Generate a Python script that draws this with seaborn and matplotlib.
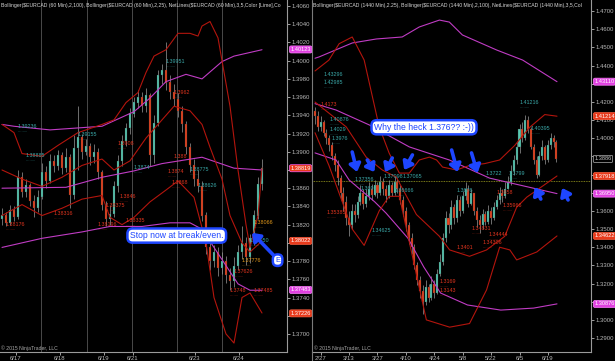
import numpy as np
import pandas as pd
import matplotlib
matplotlib.use('Agg')
import matplotlib.pyplot as plt
import matplotlib.transforms as mtrans
import seaborn as sns

# ---------------- DATA ----------------
# Left panel: EURCAD 60 min (candle index)
left_close = [1.3830, 1.3822, 1.3836, 1.3828, 1.3872, 1.3856, 1.3863, 1.3846, 1.3838, 1.3850,
              1.3878, 1.3868, 1.3890, 1.3884, 1.3896, 1.3882, 1.3894, 1.3852, 1.3904, 1.3916,
              1.3900, 1.3906, 1.3894, 1.3900, 1.3878, 1.3842, 1.3826, 1.3832, 1.3862, 1.3890,
              1.3912, 1.3926, 1.3942, 1.3954, 1.3960, 1.3950, 1.3962, 1.3896, 1.3932, 1.3984,
              1.3990, 1.3976, 1.3966, 1.3958, 1.3945, 1.3930, 1.3905, 1.3885, 1.3870, 1.3862,
              1.3830, 1.3795, 1.3780, 1.3790, 1.3772, 1.3780, 1.3765, 1.3758, 1.3775, 1.3790,
              1.3800, 1.3785, 1.3805, 1.3830, 1.3865, 1.3882]
left_open = [1.3826] + left_close[:-1]
left_high = [1.3838, 1.3834, 1.3842, 1.3840, 1.3880, 1.3878, 1.3870, 1.3866, 1.3852, 1.3858,
             1.3888, 1.3884, 1.3898, 1.3896, 1.3902, 1.3900, 1.3904, 1.3898, 1.3918, 1.3950,
             1.3920, 1.3914, 1.3910, 1.3908, 1.3904, 1.3880, 1.3846, 1.3842, 1.3868, 1.3896,
             1.3918, 1.3932, 1.3948, 1.3960, 1.3968, 1.3966, 1.3970, 1.3964, 1.3940, 1.3990,
             1.3996, 1.4020, 1.3984, 1.3974, 1.3964, 1.3950, 1.3934, 1.3910, 1.3892, 1.3880,
             1.3868, 1.3834, 1.3800, 1.3798, 1.3796, 1.3790, 1.3786, 1.3772, 1.3784, 1.3798,
             1.3818, 1.3806, 1.3810, 1.3836, 1.3872, 1.3892]
left_low = [1.3820, 1.3818, 1.3820, 1.3824, 1.3826, 1.3850, 1.3850, 1.3840, 1.3828, 1.3834,
            1.3848, 1.3860, 1.3866, 1.3878, 1.3880, 1.3876, 1.3878, 1.3838, 1.3848, 1.3880,
            1.3892, 1.3896, 1.3886, 1.3888, 1.3870, 1.3836, 1.3818, 1.3820, 1.3828, 1.3856,
            1.3884, 1.3906, 1.3920, 1.3938, 1.3948, 1.3944, 1.3944, 1.3884, 1.3888, 1.3928,
            1.3974, 1.3968, 1.3958, 1.3950, 1.3938, 1.3922, 1.3898, 1.3878, 1.3862, 1.3856,
            1.3824, 1.3788, 1.3770, 1.3774, 1.3764, 1.3766, 1.3756, 1.3748, 1.3752, 1.3770,
            1.3782, 1.3776, 1.3778, 1.3798, 1.3826, 1.3858]

# Bollinger (25, 2.25) - dark red ; Bollinger (100, 2) - magenta  (knots)
lbb25_x = [0, 3, 5, 10, 14, 19, 25, 28, 31, 34, 36, 38, 41, 44, 47, 49, 50, 52, 54, 55, 57, 59, 61, 62, 64, 65]
lbb25_up = [1.3930, 1.3921, 1.3898, 1.3895, 1.3907, 1.3921, 1.3930, 1.3935, 1.3954, 1.3965, 1.3987, 1.4005,
            1.4012, 1.4030, 1.4030, 1.4027, 1.4038, 1.4043, 1.4025, 1.4000, 1.3950, 1.3880, 1.3820, 1.3795,
            1.3830, 1.3882]
lbb25_mx = [0, 5, 10, 15, 20, 25, 28, 32, 36, 40, 43, 47, 50, 52, 55, 57, 60, 62, 65]
lbb25_md = [1.3880, 1.3870, 1.3862, 1.3872, 1.3885, 1.3892, 1.3880, 1.3890, 1.3915, 1.3935, 1.3950, 1.3945,
            1.3930, 1.3905, 1.3870, 1.3830, 1.3800, 1.3790, 1.3802]
lbb25_lx = [0, 5, 10, 15, 20, 25, 27, 30, 33, 37, 41, 44, 48, 51, 53, 56, 58, 60, 62, 65]
lbb25_lo = [1.3830, 1.3842, 1.3830, 1.3838, 1.3848, 1.3852, 1.3828, 1.3820, 1.3828, 1.3845, 1.3858, 1.3868,
            1.3850, 1.3800, 1.3740, 1.3700, 1.3690, 1.3740, 1.3745, 1.3723]
lbb100_ux = [0, 3, 12, 25, 33, 37, 41, 46, 50, 55, 58, 65]
lbb100_up = [1.3930, 1.3928, 1.3924, 1.3928, 1.3944, 1.3959, 1.3977, 1.3985, 1.3980, 1.3999, 1.4005, 1.4012]
lbb100_mx = [0, 16, 25, 33, 40, 50, 58, 65]
lbb100_md = [1.3860, 1.3861, 1.3872, 1.3879, 1.3887, 1.3894, 1.3882, 1.3880]
lbb100_lx = [0, 10, 20, 27, 35, 42, 47, 50, 53, 56, 59, 62, 65]
lbb100_lo = [1.3795, 1.3805, 1.3812, 1.3818, 1.3818, 1.3822, 1.3822, 1.3815, 1.3795, 1.3775, 1.3755, 1.3748, 1.3748]

left_sessions = [9.75, 21.2, 32.4, 43.7, 54.9]
left_xtick_pos = [3.4, 14.5, 25.5, 32.7, 48.25, 59.25]
left_xtick_lab = ['6/17', '6/18', '6/19', '6/21', '6/23', '6/24']
left_yticks = [round(1.3700 + 0.002 * k, 4) for k in range(19)]
left_hidden_ticks = [1.3880, 1.3800, 1.3720]

# Right panel: EURCAD daily
right_close = [1.4120, 1.4060, 1.4090, 1.4030, 1.4000, 1.3960, 1.3900, 1.3850, 1.3780, 1.3700,
               1.3650, 1.3560, 1.3520, 1.3600, 1.3580, 1.3650, 1.3700, 1.3640, 1.3680, 1.3720,
               1.3690, 1.3740, 1.3700, 1.3760, 1.3720, 1.3680, 1.3740, 1.3700, 1.3760, 1.3720,
               1.3660, 1.3600, 1.3520, 1.3450, 1.3400, 1.3300, 1.3220, 1.3160, 1.3100, 1.3180,
               1.3120, 1.3200, 1.3150, 1.3250, 1.3320, 1.3450, 1.3560, 1.3520, 1.3620, 1.3560,
               1.3660, 1.3600, 1.3680, 1.3720, 1.3640, 1.3700, 1.3600, 1.3550, 1.3520, 1.3580,
               1.3540, 1.3600, 1.3560, 1.3620, 1.3660, 1.3700, 1.3680, 1.3720, 1.3760, 1.3820,
               1.3880, 1.3950, 1.4050, 1.4000, 1.4100, 1.4050, 1.3950, 1.3880, 1.3800, 1.3900,
               1.3950, 1.3880, 1.3960, 1.4000, 1.3980, 1.3886]
right_open = [1.4150] + right_close[:-1]
right_high = [1.4170, 1.4150, 1.4120, 1.4100, 1.4050, 1.4020, 1.3980, 1.3920, 1.3880, 1.3800,
              1.3730, 1.3680, 1.3600, 1.3640, 1.3640, 1.3680, 1.3740, 1.3720, 1.3720, 1.3760,
              1.3750, 1.3770, 1.3760, 1.3790, 1.3780, 1.3740, 1.3770, 1.3760, 1.3790, 1.3780,
              1.3740, 1.3680, 1.3620, 1.3540, 1.3480, 1.3420, 1.3320, 1.3240, 1.3190, 1.3220,
              1.3200, 1.3240, 1.3220, 1.3280, 1.3360, 1.3480, 1.3600, 1.3590, 1.3660, 1.3640,
              1.3690, 1.3680, 1.3710, 1.3760, 1.3740, 1.3720, 1.3700, 1.3620, 1.3580, 1.3610,
              1.3600, 1.3630, 1.3620, 1.3650, 1.3690, 1.3730, 1.3720, 1.3760, 1.3790, 1.3850,
              1.3910, 1.3980, 1.4080, 1.4090, 1.4130, 1.4120, 1.4060, 1.3970, 1.3900, 1.3930,
              1.3990, 1.3960, 1.3990, 1.4030, 1.4020, 1.3990]
right_low = [1.4080, 1.4040, 1.4040, 1.4010, 1.3970, 1.3930, 1.3880, 1.3820, 1.3740, 1.3660,
             1.3600, 1.3520, 1.3460, 1.3500, 1.3540, 1.3560, 1.3630, 1.3610, 1.3620, 1.3660,
             1.3660, 1.3680, 1.3670, 1.3690, 1.3690, 1.3650, 1.3670, 1.3680, 1.3690, 1.3700,
             1.3640, 1.3570, 1.3490, 1.3420, 1.3360, 1.3280, 1.3190, 1.3120, 1.3030, 1.3080,
             1.3100, 1.3110, 1.3120, 1.3140, 1.3240, 1.3300, 1.3430, 1.3480, 1.3500, 1.3530,
             1.3540, 1.3570, 1.3590, 1.3660, 1.3620, 1.3630, 1.3580, 1.3510, 1.3480, 1.3500,
             1.3520, 1.3530, 1.3530, 1.3550, 1.3610, 1.3640, 1.3650, 1.3670, 1.3720, 1.3740,
             1.3800, 1.3860, 1.3920, 1.3980, 1.3990, 1.4030, 1.3940, 1.3860, 1.3780, 1.3790,
             1.3880, 1.3860, 1.3870, 1.3940, 1.3950, 1.3870]

rbb25_ux = [0, 4.9, 8.5, 13.1, 17.3, 22.6, 26.1, 29.7, 33.2, 36.7, 40.3, 42.8, 44.9, 49.8, 54.4, 59.7,
            65.0, 70.3, 75.6, 80.9, 85.2]
rbb25_up = [1.4370, 1.4430, 1.4520, 1.4557, 1.4430, 1.4062, 1.3918, 1.3808, 1.3808, 1.3880, 1.3896, 1.3880,
            1.3841, 1.3825, 1.3850, 1.3860, 1.3880, 1.3960, 1.4060, 1.4130, 1.4121]
rbb25_mx = [0, 11.0, 18.0, 23.7, 28.6, 35.7, 43.8, 47.4, 54.4, 60.4, 66.8, 71.0, 74.6, 78.1, 85.2]
rbb25_md = [1.4199, 1.4062, 1.3896, 1.3825, 1.3786, 1.3580, 1.3460, 1.3385, 1.3350, 1.3385, 1.3460, 1.3620,
            1.3676, 1.3714, 1.3792]
rbb25_lx = [0, 4.9, 10.3, 13.1, 17.3, 22.6, 26.1, 29.7, 35.0, 39.2, 47.4, 54.4, 60.4, 65.0, 68.6, 71.0,
            78.1, 85.2]
rbb25_lo = [1.4030, 1.3850, 1.3620, 1.3500, 1.3410, 1.3600, 1.3680, 1.3680, 1.3300, 1.3000, 1.2960, 1.2980,
            1.3165, 1.3400, 1.3385, 1.3330, 1.3374, 1.3462]
rbb100_ux = [0, 1.4, 13.1, 21.6, 30.7, 36.7, 43.8, 47.3, 51.9, 64.0, 73.1, 85.2]
rbb100_up = [1.4440, 1.4447, 1.4524, 1.4546, 1.4557, 1.4612, 1.4650, 1.4639, 1.4568, 1.4485, 1.4430, 1.4311]
rbb100_mx = [0, 7.4, 19.1, 33.2, 47.3, 61.5, 85.2]
rbb100_md = [1.4190, 1.4155, 1.4073, 1.3952, 1.3880, 1.3780, 1.3695]
rbb100_lx = [0, 7.4, 12.0, 21.0, 25.0, 32.7, 38.3, 44.2, 53.7, 65.4, 77.0, 85.2]
rbb100_lo = [1.3919, 1.3880, 1.3770, 1.3650, 1.3588, 1.3450, 1.3291, 1.3148, 1.3082, 1.3054, 1.3065, 1.3088]

right_line_level = 1.3766
right_xtick_pos = [2, 12, 22, 32, 42, 52, 62, 72, 82]
right_xtick_lab = ['2/27', '3/13', '3/27', '4/10', '4/24', '5/8', '5/22', '6/5', '6/19']
right_yticks = [round(1.29 + 0.01 * k, 2) for k in range(19)]
right_hidden_ticks = [1.43, 1.39, 1.38, 1.37, 1.31]

left_tags = [(1.40123, '1.40123', '#e040e0', '#ff80ff'), (1.38819, '1.38819', '#e83a1c', '#ff60ff'),
             (1.38022, '1.38022', '#e83a1c', '#ff6040'), (1.37483, '1.37483', '#e040e0', '#ff80ff'),
             (1.37226, '1.37226', '#e83a1c', '#ff6040')]
right_tags = [(1.43110, '1.43110', '#e040e0', '#ff80ff'), (1.41214, '1.41214', '#e83a1c', '#ff6040'),
              (1.37918, '1.37918', '#e83a1c', '#ff6040'), (1.36950, '1.36950', '#e040e0', '#ff80ff'),
              (1.34622, '1.34622', '#e83a1c', '#ff6040'), (1.30876, '1.30876', '#e040e0', '#ff80ff')]

# NetLines labels (candle index, price, text, kind)
left_net = [(4, 1.3925, '1.39236', 'h'), (6, 1.3893, '1.38885', 'h'), (19, 1.3916, '1.39155', 'h'),
            (29, 1.3906, '1.3908', 'l'), (33, 1.3880, '1.3874', 'h'), (1, 1.3817, '1.38176', 'l'),
            (13, 1.3830, '1.38316', 'l'), (24, 1.3817, '1.38196', 'l'), (26, 1.3838, '1.38375', 'l'),
            (29.5, 1.3848, '1.3846', 'l'), (31, 1.3822, '1.38335', 'l'), (43, 1.3962, '1.3962', 'l'),
            (41, 1.3996, '1.39951', 'h'), (41.5, 1.3876, '1.3874', 'l'), (42.5, 1.3864, '1.3868', 'l'),
            (43, 1.3892, '1.388', 'l'), (47, 1.3878, '1.38775', 'h'), (49, 1.3860, '1.38626', 'h'),
            (63, 1.3820, '1.38066', 'o'), (60, 1.3778, '1.37776', 'o'), (58, 1.3766, '1.37626', 'l'),
            (57, 1.3745, '1.3748', 'l'), (63, 1.3745, '1.37485', 'l'), (62, 1.3800, '1.37950', 'h')]
right_net = [(3, 1.4335, '1.43296', 'h'), (3, 1.4290, '1.42985', 'h'), (2, 1.4173, '1.4173', 'l'),
             (5, 1.4087, '1.40876', 'h'), (5, 1.4033, '1.4029', 'h'), (6, 1.3985, '1.3976', 'h'),
             (14, 1.3760, '1.37356', 'h'), (16, 1.3710, '1.369', 'h'), (28, 1.3700, '1.36666', 'h'),
             (24, 1.3775, '1.37098', 'h'), (31, 1.3775, '1.37065', 'h'), (44, 1.3200, '1.3169', 'l'),
             (44, 1.3150, '1.3143', 'l'), (50, 1.3385, '1.3401', 'l'), (55, 1.3490, '1.34831', 'l'),
             (61, 1.3455, '1.34444', 'l'), (59, 1.3410, '1.34306', 'l'), (64, 1.3690, '1.3658', 'l'),
             (66, 1.3615, '1.35966', 'l'), (50, 1.3700, '1.3676', 'h'), (60, 1.3790, '1.3722', 'h'),
             (68, 1.3790, '1.3799', 'h'), (72, 1.4180, '1.41216', 'h'), (76, 1.4040, '1.40395', 'h'),
             (20, 1.3480, '1.34625', 'h'), (4, 1.3580, '1.35385', 'l')]

# blue arrows (tail -> head), right panel, and left panel arrow
right_arrows = [((13.1, 1.3924), (14.8, 1.3814)), ((18.4, 1.3880), (20.9, 1.3814)),
                ((27.2, 1.3891), (24.7, 1.3814)), ((34.3, 1.3908), (31.4, 1.3825)),
                ((48.1, 1.3935), (50.2, 1.3814)), ((55.1, 1.3919), (57.2, 1.3808)),
                ((79.5, 1.3665), (77.4, 1.3731)), ((89.1, 1.3660), (87.0, 1.3726))]
left_arrow = ((68.2, 1.3785), (62.5, 1.3811))

# ---------------- STYLE / LAYOUT ----------------
W, H = 615, 361
sns.set_theme(style='dark')
plt.rcParams['font.family'] = ['Liberation Sans', 'DejaVu Sans']

UP, DN, WICK = '#58c9b2', '#e8431f', '#9a9a9a'
RED_BB, MAG_BB = '#b3150d', '#c03cc4'
TEAL, LOWRED, ORANGE = '#3aa8a8', '#e0341e', '#e59a1a'
BLUE = '#1e46ff'

fig = plt.figure(figsize=(W / 100, H / 100), dpi=100, facecolor='black')


def rect(x0, x1, y0, y1):
    return [x0 / W, 1 - y1 / H, (x1 - x0) / W, (y1 - y0) / H]


axL = fig.add_axes(rect(0, 287, 0, 352))
axR = fig.add_axes(rect(312, 591, 0, 352))


def style_axes(ax, xlim, ylim, yticks, hidden):
    ax.set_facecolor('black')
    ax.set_xlim(*xlim)
    ax.set_ylim(*ylim)
    ax.grid(False)
    for s in ['top', 'left']:
        ax.spines[s].set_visible(False)
    for s in ['right', 'bottom']:
        ax.spines[s].set_visible(True)
        ax.spines[s].set_color('#9a9a9a')
        ax.spines[s].set_linewidth(0.8)
    ax.yaxis.tick_right()
    ax.set_yticks(yticks)
    ax.set_yticklabels(['' if any(abs(v - h) < 1e-6 for h in hidden) else '{:.4f}'.format(v)
                        for v in yticks])
    ax.tick_params(axis='y', colors='#b8b8b8', labelsize=4.3, length=2.5, width=0.6, pad=1,
                   direction='out', right=True, left=False)
    ax.tick_params(axis='x', colors='#b8b8b8', labelsize=4.3, length=2.0, width=0.6, pad=0.8,
                   direction='out', bottom=True)


def candles(ax, o, h, l, c, width):
    idx = np.arange(len(c))
    o, h, l, c = map(np.asarray, (o, h, l, c))
    up = c >= o
    ax.vlines(idx, l, h, color=WICK, lw=0.5, zorder=3)
    cols = np.where(up, UP, DN)
    ax.bar(idx, np.abs(c - o) + 1e-5, bottom=np.minimum(o, c), width=width, color=cols,
           edgecolor='#3a3a3a', linewidth=0.2, zorder=4)


def bands(ax, sets):
    for xs, ys, col in sets:
        df = pd.DataFrame({'x': xs, 'y': ys})
        sns.lineplot(data=df, x='x', y='y', ax=ax, color=col, lw=0.8, zorder=5, sort=False)


def tags(ax, tag_list):
    tr = mtrans.blended_transform_factory(ax.transAxes, ax.transData)
    for v, t, fc, ec in tag_list:
        ax.text(1.012, v, t, transform=tr, ha='left', va='center', fontsize=4.1, color='white',
                bbox=dict(boxstyle='round,pad=0.18,rounding_size=0.3', fc=fc, ec=ec, lw=0.5),
                clip_on=False, zorder=20)


def netlabels(ax, items):
    for i, p, t, k in items:
        col = {'h': TEAL, 'l': LOWRED, 'o': ORANGE}[k]
        ax.text(i, p, t, fontsize=3.9, color=col, ha='left', va='bottom', zorder=8)
        ax.text(i, p, '.' * (len(t) + 2), fontsize=3.0, color=col, ha='left', va='top', zorder=8)


def blue_arrow(ax, tail, head):
    ax.annotate('', xy=head, xytext=tail, zorder=29,
                arrowprops=dict(arrowstyle='-|>,head_length=0.55,head_width=0.42', color=BLUE, lw=2.6,
                                shrinkA=0, shrinkB=0, mutation_scale=8))


def note_box(ax, x, y, text, fs, ha='left'):
    ax.text(x, y, text, fontsize=fs, color=BLUE, ha=ha, va='center', zorder=30,
            bbox=dict(boxstyle='round,pad=0.3,rounding_size=0.6', fc='white', ec=BLUE, lw=1.8))


# ---------------- LEFT PANEL ----------------
style_axes(axL, (-0.5, 71.25), (1.36802, 1.406659), left_yticks, left_hidden_ticks)
for s in left_sessions:
    axL.axvline(s, color='#4a4a4a', lw=0.7, zorder=1)
bands(axL, [(lbb100_ux, lbb100_up, MAG_BB), (lbb100_mx, lbb100_md, MAG_BB), (lbb100_lx, lbb100_lo, MAG_BB),
            (lbb25_x, lbb25_up, RED_BB), (lbb25_mx, lbb25_md, RED_BB), (lbb25_lx, lbb25_lo, RED_BB)])
candles(axL, left_open, left_high, left_low, left_close, 0.62)
netlabels(axL, left_net)
axL.set_xticks(left_xtick_pos)
axL.set_xticklabels(left_xtick_lab)
axL.set_xlabel('')
axL.set_ylabel('')
tags(axL, left_tags)
note_box(axL, 32.0, 1.3808, 'Stop now at break/even.', 6.2)
note_box(axL, 68.9, 1.3781, 'E', 5.4, ha='center')
blue_arrow(axL, left_arrow[0], left_arrow[1])

# ---------------- RIGHT PANEL ----------------
style_axes(axR, (-1.06, 97.17), (1.28233, 1.47605), right_yticks, right_hidden_ticks)
axR.axhline(right_line_level, color='#a0a020', lw=0.6, ls=(0, (1, 1)), zorder=2)
bands(axR, [(rbb100_ux, rbb100_up, MAG_BB), (rbb100_mx, rbb100_md, MAG_BB), (rbb100_lx, rbb100_lo, MAG_BB),
            (rbb25_ux, rbb25_up, RED_BB), (rbb25_mx, rbb25_md, RED_BB), (rbb25_lx, rbb25_lo, RED_BB)])
candles(axR, right_open, right_high, right_low, right_close, 0.72)
netlabels(axR, right_net)
axR.set_xticks(right_xtick_pos)
axR.set_xticklabels(right_xtick_lab)
axR.set_xticks(np.arange(0, 86, 1), minor=True)
axR.tick_params(axis='x', which='minor', length=1.5, color='#b8b8b8', width=0.5)
axR.set_xlabel('')
axR.set_ylabel('')
tags(axR, right_tags)
trR = mtrans.blended_transform_factory(axR.transAxes, axR.transData)
axR.text(1.012, 1.3886, '1.3886', transform=trR, ha='left', va='center', fontsize=4.1, color='#c8c8c8',
         bbox=dict(boxstyle='round,pad=0.18', fc='black', ec='#b0b0b0', lw=0.5), clip_on=False, zorder=20)
note_box(axR, 20.8, 1.4060, 'Why the heck 1.376?? :-))', 6.2)
for tail, head in right_arrows:
    blue_arrow(axR, tail, head)

# ---------------- FIGURE TEXT ----------------
fig.text(1 / W, 1 - 5 / H, 'Bollinger($EURCAD (60 Min),2,100), Bollinger($EURCAD (60 Min),2,25), '
         'NetLines($EURCAD (60 Min),3,5,Color [Lime],Co', fontsize=3.7, color='#d8d8d8', va='center')
fig.text(313 / W, 1 - 5 / H, 'Bollinger($EURCAD (1440 Min),2.25), Bollinger($EURCAD (1440 Min),2,100), '
         'NetLines($EURCAD (1440 Min),3,5,Col', fontsize=3.7, color='#d8d8d8', va='center')
fig.text(1 / W, 1 - 348 / H, '© 2015 NinjaTrader, LLC', fontsize=3.7, color='#a8a8a8', va='center')
fig.text(314 / W, 1 - 348 / H, '© 2015 NinjaTrader, LLC', fontsize=3.7, color='#a8a8a8', va='center')
fig.add_artist(plt.Line2D([311.5 / W, 311.5 / W], [0, 1], color='#7a7a7a', lw=0.8))

fig.savefig('out.png', dpi=100, facecolor='black')
